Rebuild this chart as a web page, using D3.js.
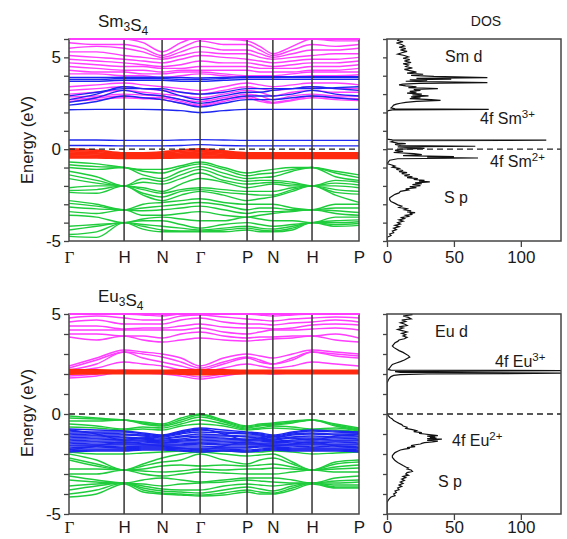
<!DOCTYPE html>
<html><head><meta charset="utf-8">
<script src="https://cdn.jsdelivr.net/npm/d3@7"></script>
<style>
body{margin:0;background:#fff}
text{font-family:"Liberation Sans",Arial,sans-serif;fill:#1a1a1a}
</style>
</head><body>
<svg id="c" width="567" height="539"></svg>
<script>
// ---------- k-path ----------
const kLabels = ["Γ","H","N","Γ","P","N","H","P"];
const kTicks  = [0,0.19,0.321,0.452,0.614,0.703,0.838,1];
const kPath   = [0,0.095,0.19,0.255,0.321,0.386,0.452,0.533,0.614,0.658,0.703,0.77,0.838,0.919,1];
const dosTicks = [0,50,100];

// ---------- Sm3S4 bands (eV at kPath) ----------
const smGreen = [
[-0.7,-0.8,-1.0,-1.1,-1.1,-0.9,-0.7,-1.0,-1.3,-1.2,-1.1,-1.0,-1.0,-1.2,-1.4],
[-0.85,-0.95,-1.0,-1.2,-1.3,-1.0,-0.8,-1.1,-1.45,-1.35,-1.3,-1.1,-1.0,-1.3,-1.55],
[-1.0,-1.1,-1.0,-1.4,-1.6,-1.2,-0.95,-1.3,-1.6,-1.55,-1.5,-1.2,-1.0,-1.5,-1.7],
[-1.2,-1.5,-2.0,-1.6,-1.75,-1.4,-1.1,-1.5,-1.75,-1.7,-1.7,-1.8,-2.0,-1.7,-1.8],
[-1.4,-1.7,-2.0,-1.8,-1.9,-1.6,-1.3,-1.7,-1.9,-1.85,-1.8,-1.9,-2.0,-1.85,-1.95],
[-1.6,-1.85,-2.0,-2.1,-2.3,-1.9,-1.6,-1.8,-2.1,-2.0,-1.9,-2.0,-2.0,-2.0,-2.1],
[-2.1,-2.0,-2.0,-2.2,-2.4,-2.2,-2.1,-2.2,-2.3,-2.3,-2.3,-2.1,-2.0,-2.2,-2.3],
[-2.25,-2.2,-2.0,-2.4,-2.6,-2.3,-2.2,-2.35,-2.45,-2.5,-2.5,-2.2,-2.0,-2.35,-2.45],
[-2.35,-2.4,-2.0,-2.5,-2.8,-2.5,-2.3,-2.5,-2.8,-2.7,-2.6,-2.3,-2.0,-2.5,-2.9],
[-2.8,-3.0,-3.3,-3.0,-2.9,-2.8,-2.7,-2.9,-3.0,-3.0,-3.0,-3.2,-3.3,-3.0,-3.0],
[-2.95,-3.1,-3.3,-3.2,-3.1,-3.0,-2.9,-3.05,-3.3,-3.2,-3.2,-3.3,-3.3,-3.2,-3.2],
[-3.15,-3.25,-3.3,-3.35,-3.3,-3.2,-3.1,-3.3,-3.5,-3.4,-3.4,-3.35,-3.3,-3.35,-3.45],
[-3.4,-3.5,-3.3,-3.6,-3.6,-3.5,-3.4,-3.6,-3.7,-3.6,-3.5,-3.4,-3.3,-3.5,-3.6],
[-3.6,-3.7,-4.0,-3.8,-3.7,-3.8,-3.9,-3.9,-3.7,-3.8,-3.9,-3.9,-4.0,-3.7,-3.7],
[-4.2,-4.1,-4.0,-3.9,-3.9,-4.1,-4.3,-4.1,-4.0,-4.1,-4.2,-4.1,-4.0,-3.9,-3.85],
[-4.4,-4.2,-4.0,-4.1,-4.2,-4.3,-4.4,-4.3,-4.2,-4.3,-4.35,-4.2,-4.0,-4.0,-3.95],
[-4.65,-4.5,-4.0,-4.2,-4.4,-4.45,-4.45,-4.4,-4.3,-4.4,-4.45,-4.3,-4.0,-4.1,-4.05],
[-4.75,-4.8,-4.0,-4.35,-4.5,-4.5,-4.5,-4.5,-4.4,-4.5,-4.5,-4.4,-4.0,-4.2,-4.15]
];
const smMagenta = [
[6.1,6.0,6.0,5.8,5.3,5.8,6.1,6.0,5.9,5.6,5.2,5.6,6.0,5.9,5.9],
[5.8,5.7,5.7,5.5,5.1,5.5,5.9,5.7,5.7,5.4,5.1,5.4,5.7,5.6,5.7],
[5.5,5.6,5.5,5.3,5.0,5.3,5.6,5.4,5.4,5.2,5.0,5.2,5.4,5.4,5.5],
[5.3,5.3,5.1,5.0,4.9,5.1,5.3,5.2,5.2,5.0,4.9,5.0,5.1,5.2,5.2],
[5.1,5.0,4.9,4.8,4.7,4.9,5.1,5.0,4.9,4.8,4.7,4.8,4.9,4.9,5.0],
[4.9,4.8,4.7,4.6,4.5,4.6,4.8,4.7,4.7,4.6,4.5,4.6,4.7,4.7,4.8],
[4.7,4.6,4.5,4.5,4.4,4.4,4.5,4.5,4.5,4.4,4.4,4.4,4.5,4.5,4.6],
[4.5,4.4,4.3,4.3,4.2,4.3,4.3,4.3,4.3,4.2,4.2,4.2,4.3,4.3,4.4],
[4.3,4.2,4.2,4.1,4.1,4.2,4.2,4.1,4.0,4.0,4.0,4.1,4.2,4.2,4.2],
[4.1,4.1,4.0,4.0,3.9,4.0,4.1,4.0,3.9,3.9,3.9,3.95,4.0,4.0,4.05],
[3.4,3.5,3.6,3.5,3.4,3.3,3.2,3.4,3.6,3.5,3.4,3.5,3.6,3.6,3.5],
[3.2,3.3,3.4,3.3,3.2,3.1,3.0,3.2,3.4,3.3,3.2,3.3,3.4,3.3,3.3],
[3.0,3.1,3.2,3.1,3.0,2.9,2.8,3.0,3.2,3.1,2.9,3.1,3.2,3.1,3.1],
[2.85,2.9,3.0,2.95,2.9,2.7,2.6,2.8,3.0,2.9,2.7,2.9,3.0,2.9,2.9],
[2.7,2.8,2.9,2.8,2.8,2.6,2.4,2.7,2.9,2.7,2.55,2.7,2.9,2.8,2.75],
[2.6,2.7,2.8,2.75,2.7,2.5,2.35,2.6,2.8,2.6,2.5,2.65,2.8,2.7,2.65]
];
const smBlue = [
[0.5,0.5,0.48,0.48,0.48,0.5,0.52,0.5,0.48,0.48,0.48,0.48,0.48,0.48,0.48],
[0.2,0.2,0.18,0.18,0.18,0.2,0.25,0.2,0.18,0.18,0.18,0.18,0.18,0.18,0.18],
[2.15,2.17,2.17,2.17,2.15,2.1,2.0,2.1,2.17,2.17,2.17,2.17,2.17,2.17,2.17],
[2.4,2.6,2.9,2.8,2.7,2.5,2.3,2.5,2.7,2.7,2.7,2.8,2.9,2.8,2.7],
[2.55,2.8,3.2,3.0,2.9,2.7,2.5,2.7,2.9,2.9,2.9,3.0,3.2,3.0,2.9],
[2.7,3.0,3.4,3.3,3.2,2.9,2.7,2.9,3.1,3.1,3.2,3.3,3.4,3.3,3.2],
[2.9,3.1,3.3,3.3,3.3,3.1,3.0,3.1,3.3,3.3,3.3,3.3,3.3,3.35,3.4],
[3.7,3.7,3.75,3.75,3.75,3.7,3.7,3.75,3.8,3.8,3.8,3.8,3.8,3.8,3.8],
[3.8,3.8,3.85,3.85,3.85,3.8,3.8,3.85,3.9,3.9,3.9,3.9,3.9,3.9,3.9],
[3.9,3.9,3.92,3.92,3.92,3.9,3.88,3.9,3.95,3.95,3.95,3.95,3.95,3.95,3.95]
];
const smRed = [
[0.02,-0.05,-0.2,-0.2,-0.15,-0.05,0.02,-0.1,-0.2,-0.2,-0.2,-0.2,-0.2,-0.2,-0.2],
[-0.08,-0.12,-0.25,-0.25,-0.22,-0.12,-0.06,-0.16,-0.25,-0.25,-0.25,-0.25,-0.25,-0.25,-0.25],
[-0.15,-0.2,-0.3,-0.3,-0.28,-0.2,-0.14,-0.22,-0.3,-0.3,-0.3,-0.3,-0.3,-0.3,-0.3],
[-0.22,-0.26,-0.33,-0.33,-0.32,-0.27,-0.22,-0.28,-0.34,-0.34,-0.34,-0.34,-0.34,-0.34,-0.34],
[-0.3,-0.32,-0.37,-0.37,-0.36,-0.33,-0.3,-0.33,-0.38,-0.38,-0.38,-0.38,-0.38,-0.38,-0.38],
[-0.36,-0.38,-0.41,-0.41,-0.4,-0.38,-0.36,-0.38,-0.42,-0.42,-0.42,-0.42,-0.42,-0.42,-0.42],
[-0.42,-0.43,-0.45,-0.45,-0.44,-0.43,-0.42,-0.43,-0.46,-0.46,-0.46,-0.46,-0.46,-0.46,-0.46],
[-0.47,-0.47,-0.5,-0.5,-0.49,-0.47,-0.47,-0.47,-0.5,-0.5,-0.5,-0.5,-0.5,-0.5,-0.5]
];

// ---------- Eu3S4 bands ----------
const euGreen = [
[-0.1,-0.2,-0.3,-0.4,-0.5,-0.2,0.0,-0.3,-0.6,-0.5,-0.45,-0.35,-0.3,-0.5,-0.7],
[-0.2,-0.25,-0.3,-0.45,-0.55,-0.3,-0.05,-0.35,-0.65,-0.55,-0.5,-0.4,-0.3,-0.55,-0.75],
[-0.35,-0.35,-0.3,-0.5,-0.6,-0.4,-0.15,-0.4,-0.7,-0.6,-0.55,-0.45,-0.3,-0.6,-0.8],
[-0.5,-0.6,-0.75,-0.65,-0.7,-0.5,-0.3,-0.5,-0.75,-0.7,-0.6,-0.65,-0.75,-0.7,-0.85],
[-0.65,-0.7,-0.8,-0.75,-0.8,-0.6,-0.5,-0.6,-0.8,-0.75,-0.7,-0.75,-0.8,-0.8,-0.9],
[-1.9,-2.0,-2.0,-1.95,-1.9,-1.85,-1.8,-1.85,-1.9,-1.9,-1.85,-1.9,-2.0,-1.95,-1.9],
[-2.0,-2.3,-2.8,-2.5,-2.2,-2.0,-1.9,-2.0,-2.1,-2.05,-2.0,-2.4,-2.8,-2.4,-2.3],
[-2.2,-2.5,-2.8,-2.6,-2.4,-2.3,-2.0,-2.3,-2.5,-2.3,-2.2,-2.5,-2.8,-2.5,-2.4],
[-2.3,-2.6,-2.8,-2.75,-2.6,-2.55,-2.6,-2.55,-2.6,-2.55,-2.5,-2.65,-2.8,-2.65,-2.55],
[-2.75,-2.75,-2.8,-2.85,-2.9,-2.85,-2.75,-2.8,-2.75,-2.75,-2.7,-2.75,-2.8,-2.75,-2.7],
[-3.0,-3.0,-2.8,-3.0,-3.1,-3.0,-2.9,-2.95,-3.0,-3.0,-3.0,-2.9,-2.8,-2.9,-2.9],
[-3.1,-3.3,-3.45,-3.3,-3.2,-3.3,-3.4,-3.3,-3.2,-3.2,-3.2,-3.3,-3.45,-3.2,-3.1],
[-3.3,-3.4,-3.45,-3.5,-3.6,-3.5,-3.45,-3.4,-3.3,-3.35,-3.4,-3.45,-3.45,-3.35,-3.3],
[-3.6,-3.5,-3.45,-3.6,-3.75,-3.8,-3.8,-3.6,-3.5,-3.55,-3.6,-3.5,-3.45,-3.45,-3.4],
[-3.8,-3.6,-3.45,-3.7,-3.85,-3.9,-3.95,-3.8,-3.65,-3.75,-3.85,-3.6,-3.45,-3.55,-3.55],
[-4.0,-3.8,-3.45,-3.8,-3.95,-4.0,-4.05,-3.95,-3.8,-3.9,-3.95,-3.7,-3.45,-3.65,-3.65],
[-4.15,-4.0,-3.5,-3.9,-4.0,-4.05,-4.1,-4.05,-3.9,-4.0,-4.0,-3.8,-3.5,-3.7,-3.7]
];
const euMagenta = [
[5.0,5.0,5.0,4.95,4.9,5.0,5.0,5.0,5.0,4.95,4.9,4.95,5.0,5.0,5.0],
[4.8,4.9,4.8,4.7,4.7,4.9,4.95,4.85,4.75,4.7,4.65,4.75,4.8,4.85,4.8],
[4.6,4.7,4.5,4.5,4.5,4.7,4.8,4.6,4.5,4.5,4.45,4.55,4.6,4.7,4.6],
[4.4,4.4,4.25,4.3,4.3,4.4,4.5,4.35,4.3,4.3,4.25,4.3,4.45,4.5,4.45],
[4.2,4.2,4.2,4.2,4.2,4.2,4.3,4.1,4.0,4.1,4.2,4.2,4.25,4.3,4.2],
[4.0,4.0,3.9,3.9,3.8,4.0,4.1,3.9,3.8,3.85,3.85,3.9,3.9,4.0,3.8],
[3.85,3.7,3.9,3.7,3.6,3.7,3.8,3.7,3.65,3.7,3.75,3.8,3.9,3.7,3.6],
[2.4,2.8,3.2,3.1,3.0,2.8,2.4,2.8,3.0,2.9,2.8,3.0,3.2,3.1,3.0],
[2.3,2.7,3.1,3.0,2.85,2.6,2.3,2.6,2.85,2.7,2.5,2.8,3.1,3.0,2.9],
[2.2,2.5,3.1,2.8,2.6,2.4,2.2,2.5,2.8,2.6,2.5,2.7,3.1,2.9,2.8],
[2.1,2.3,2.6,2.5,2.4,2.2,2.1,2.3,2.5,2.4,2.3,2.4,2.6,2.5,2.4],
[1.9,2.0,2.2,2.15,2.1,2.0,1.85,2.0,2.1,2.1,2.05,2.1,2.15,2.1,2.1],
[1.8,1.9,2.1,2.05,2.0,1.9,1.75,1.9,2.05,2.05,2.0,2.05,2.1,2.05,2.05]
];
const euBlue = [
[-0.75,-0.8,-0.85,-0.95,-1.05,-0.85,-0.7,-0.8,-0.9,-0.95,-1.05,-0.9,-0.8,-0.85,-0.9],
[-0.85,-0.9,-0.9,-1.0,-1.1,-0.95,-0.8,-0.9,-0.95,-1.0,-1.1,-0.95,-0.85,-0.9,-0.95],
[-0.95,-0.95,-1.0,-1.05,-1.15,-1.0,-0.9,-0.95,-1.0,-1.05,-1.15,-1.0,-0.95,-1.0,-1.0],
[-1.0,-1.05,-1.05,-1.1,-1.2,-1.1,-1.0,-1.05,-1.1,-1.1,-1.2,-1.05,-1.0,-1.05,-1.1],
[-1.1,-1.1,-1.15,-1.2,-1.25,-1.15,-1.1,-1.1,-1.15,-1.2,-1.25,-1.15,-1.1,-1.15,-1.15],
[-1.15,-1.2,-1.2,-1.25,-1.3,-1.25,-1.15,-1.2,-1.25,-1.25,-1.3,-1.2,-1.2,-1.2,-1.25],
[-1.25,-1.25,-1.3,-1.3,-1.35,-1.3,-1.25,-1.25,-1.3,-1.3,-1.35,-1.3,-1.25,-1.3,-1.3],
[-1.3,-1.35,-1.35,-1.35,-1.4,-1.35,-1.3,-1.35,-1.35,-1.35,-1.4,-1.35,-1.35,-1.35,-1.35],
[-1.4,-1.4,-1.45,-1.4,-1.45,-1.4,-1.4,-1.4,-1.45,-1.45,-1.45,-1.4,-1.45,-1.4,-1.45],
[-1.45,-1.5,-1.5,-1.5,-1.5,-1.5,-1.45,-1.5,-1.5,-1.5,-1.5,-1.5,-1.5,-1.5,-1.5],
[-1.55,-1.55,-1.55,-1.55,-1.55,-1.55,-1.5,-1.55,-1.55,-1.55,-1.55,-1.55,-1.55,-1.55,-1.55],
[-1.6,-1.6,-1.65,-1.6,-1.6,-1.6,-1.6,-1.65,-1.65,-1.6,-1.6,-1.6,-1.65,-1.6,-1.65],
[-1.7,-1.65,-1.7,-1.65,-1.65,-1.7,-1.7,-1.7,-1.7,-1.65,-1.65,-1.7,-1.7,-1.7,-1.7],
[-1.75,-1.75,-1.75,-1.7,-1.7,-1.75,-1.75,-1.75,-1.8,-1.75,-1.7,-1.75,-1.75,-1.75,-1.8],
[-1.85,-1.8,-1.8,-1.75,-1.75,-1.8,-1.85,-1.8,-1.85,-1.8,-1.75,-1.8,-1.8,-1.8,-1.85],
[-1.9,-1.85,-1.85,-1.8,-1.8,-1.85,-1.9,-1.85,-1.9,-1.85,-1.8,-1.85,-1.85,-1.85,-1.9],
[-0.8,-1.0,-1.3,-1.2,-1.1,-0.9,-0.75,-1.0,-1.3,-1.2,-1.1,-1.2,-1.3,-1.1,-1.0],
[-1.8,-1.6,-1.4,-1.5,-1.6,-1.7,-1.8,-1.6,-1.4,-1.5,-1.6,-1.5,-1.4,-1.6,-1.7]
];
const euRed = [
[2.22,2.2,2.18,2.18,2.18,2.2,2.22,2.2,2.18,2.18,2.18,2.18,2.18,2.18,2.18],
[2.17,2.16,2.15,2.15,2.15,2.16,2.17,2.16,2.15,2.15,2.15,2.15,2.15,2.15,2.15],
[2.12,2.12,2.11,2.11,2.11,2.12,2.12,2.12,2.11,2.11,2.11,2.11,2.11,2.11,2.11],
[2.08,2.08,2.07,2.07,2.07,2.08,2.05,2.08,2.07,2.07,2.07,2.07,2.07,2.07,2.07],
[2.04,2.04,2.04,2.04,2.04,2.03,2.0,2.03,2.04,2.04,2.04,2.04,2.04,2.04,2.04],
[2.0,2.01,2.02,2.02,2.02,2.0,1.97,2.0,2.02,2.02,2.02,2.02,2.02,2.02,2.02]
];

// ---------- DOS [energy, states] ----------
const dosSm = [
[6.0,9],[5.92,8],[5.85,12],[5.78,7],[5.7,11],[5.62,13],[5.55,9],[5.48,14],[5.4,10],[5.33,15],[5.25,11],[5.18,8],[5.1,13],[5.02,16],[4.95,12],[4.88,17],[4.8,13],[4.72,18],[4.65,12],[4.58,16],[4.5,14],[4.42,19],[4.35,13],[4.28,17],[4.2,22],[4.14,15],[4.08,27],[4.02,18],[3.96,35],[3.9,75],[3.86,22],[3.82,48],[3.78,17],[3.74,30],[3.7,14],[3.66,40],[3.62,75],[3.58,24],[3.54,12],[3.5,9],[3.45,14],[3.4,22],[3.35,16],[3.3,38],[3.25,20],[3.2,25],[3.15,17],[3.1,22],[3.05,15],[3.0,26],[2.95,19],[2.9,31],[2.85,18],[2.8,25],[2.75,17],[2.7,33],[2.66,40],[2.6,22],[2.55,14],[2.5,10],[2.45,7],[2.4,5],[2.32,4],[2.25,3],[2.2,6],[2.17,76],[2.14,4],[2.1,1],[2.05,0],
[0.55,0],[0.51,4],[0.49,119],[0.46,5],[0.4,3],[0.33,8],[0.3,14],[0.26,6],[0.2,10],[0.16,66],[0.13,8],[0.08,18],[0.04,28],[0.0,10],[-0.06,6],[-0.12,12],[-0.18,5],[-0.24,20],[-0.3,26],[-0.35,12],[-0.4,50],[-0.44,30],[-0.48,68],[-0.52,8],[-0.6,2],[-0.7,1],
[-0.78,0],[-0.85,3],[-0.92,6],[-0.98,4],[-1.05,9],[-1.1,7],[-1.16,12],[-1.22,9],[-1.28,15],[-1.33,11],[-1.38,17],[-1.44,13],[-1.5,19],[-1.55,15],[-1.6,23],[-1.65,20],[-1.7,28],[-1.74,24],[-1.78,32],[-1.83,21],[-1.88,26],[-1.93,19],[-1.98,25],[-2.04,17],[-2.1,22],[-2.16,14],[-2.22,16],[-2.3,10],[-2.38,9],[-2.46,6],[-2.55,4],[-2.65,2],[-2.75,2],[-2.85,3],[-2.95,6],[-3.03,8],[-3.1,11],[-3.17,9],[-3.24,15],[-3.3,13],[-3.36,18],[-3.42,15],[-3.46,21],[-3.5,17],[-3.55,19],[-3.6,14],[-3.66,16],[-3.72,11],[-3.78,13],[-3.85,9],[-3.92,12],[-4.0,8],[-4.08,10],[-4.15,6],[-4.22,9],[-4.3,5],[-4.38,7],[-4.46,4],[-4.55,5],[-4.62,2],[-4.7,3],[-4.8,0],[-5,0]
];
const dosEu = [
[5.1,17],[5.03,14],[4.97,19],[4.9,12],[4.83,16],[4.76,18],[4.7,11],[4.63,14],[4.56,10],[4.5,13],[4.43,15],[4.36,9],[4.3,12],[4.23,8],[4.16,12],[4.1,15],[4.03,11],[3.96,14],[3.9,12],[3.83,15],[3.76,13],[3.7,9],[3.63,8],[3.56,6],[3.48,5],[3.4,4],[3.33,5],[3.25,7],[3.17,9],[3.08,12],[3.0,14],[2.92,16],[2.85,17],[2.78,15],[2.7,13],[2.62,10],[2.55,7],[2.48,4],[2.4,3],[2.3,2],[2.22,1],[2.19,3],[2.17,140],[2.12,6],[2.08,10],[2.04,140],[2.0,30],[1.97,10],[1.93,5],[1.87,3],[1.8,2],[1.7,1],[1.55,0],
[0.02,0],[-0.08,1],[-0.17,2],[-0.25,4],[-0.33,5],[-0.4,7],[-0.47,9],[-0.53,11],[-0.6,12],[-0.66,15],[-0.72,14],[-0.78,19],[-0.83,22],[-0.88,20],[-0.93,26],[-0.97,24],[-1.0,28],[-1.04,33],[-1.08,38],[-1.11,30],[-1.14,36],[-1.17,32],[-1.2,37],[-1.23,30],[-1.26,41],[-1.29,33],[-1.32,30],[-1.36,38],[-1.4,34],[-1.43,28],[-1.47,26],[-1.5,25],[-1.55,20],[-1.58,18],[-1.63,21],[-1.68,15],[-1.72,17],[-1.76,13],[-1.8,10],[-1.86,8],[-1.93,6],[-2.0,5],[-2.08,4],[-2.17,4],[-2.25,5],[-2.33,6],[-2.42,8],[-2.5,10],[-2.58,12],[-2.65,14],[-2.7,16],[-2.75,15],[-2.8,18],[-2.87,19],[-2.93,15],[-3.0,14],[-3.06,16],[-3.12,12],[-3.18,14],[-3.25,11],[-3.32,13],[-3.4,10],[-3.47,12],[-3.55,9],[-3.62,11],[-3.7,8],[-3.78,9],[-3.85,6],[-3.93,7],[-4.0,5],[-4.08,6],[-4.15,3],[-4.22,2],[-4.3,1],[-4.42,0],[-5,0]
];

// ---------- drawing ----------
const COL = {green:"#1fcc3c", magenta:"#ff3cff", blue:"#1c26f0", red:"#ff2a10", frame:"#444"};
const svg = d3.select("#c");
const defs = svg.append("defs");
let clipN = 0;
function clip(x0,y0,w,h){
  const id = "cl"+(clipN++);
  defs.append("clipPath").attr("id",id).append("rect").attr("x",x0).attr("y",y0).attr("width",w).attr("height",h);
  return "url(#"+id+")";
}

function drawPanel(o){
  const x = d3.scaleLinear().domain([0,1]).range([69,359]);
  const y = d3.scaleLinear().domain(o.yDomain).range(o.yRange);
  const xd = d3.scaleLinear().domain([0,130]).range([387,561]);
  const [yb, yt] = o.yRange;

  // ----- band plot -----
  const g = svg.append("g");
  const plot = g.append("g").attr("clip-path", clip(69,yt,290,yb-yt));
  const line = d3.line().x((d,i)=>x(kPath[i])).y(d=>y(d)).curve(d3.curveMonotoneX);
  const groups = [[o.green,COL.green,1.4],[o.magenta,COL.magenta,1.4],[o.blue,COL.blue,1.4],[o.red,COL.red,1.8]];
  groups.forEach(([bands,c,w])=>{
    plot.append("g").selectAll("path").data(bands).join("path")
      .attr("d",line).attr("fill","none").attr("stroke",c).attr("stroke-width",w);
  });
  // high-symmetry verticals
  g.append("g").selectAll("line").data(kTicks.slice(1,-1)).join("line")
    .attr("x1",d=>x(d)).attr("x2",d=>x(d)).attr("y1",yt).attr("y2",yb)
    .attr("stroke","#333").attr("stroke-width",1.5);
  // Fermi level
  g.append("line").attr("x1",x(0)).attr("x2",x(1)).attr("y1",y(0)).attr("y2",y(0))
    .attr("stroke","#222").attr("stroke-width",1.3).attr("stroke-dasharray","6,4");
  // frame
  g.append("rect").attr("x",x(0)).attr("y",yt).attr("width",x(1)-x(0)).attr("height",yb-yt)
    .attr("fill","none").attr("stroke",COL.frame).attr("stroke-width",1.5);
  g.append("line").attr("x1",x(0)).attr("x2",x(1)).attr("y1",yt).attr("y2",yt)
    .attr("stroke",COL.magenta).attr("stroke-width",2);
  // y axis
  const ya = g.append("g").attr("transform",`translate(${x(0)},0)`)
    .call(d3.axisLeft(y).tickValues(d3.range(-5, o.yDomain[1]+1)).tickSize(5).tickPadding(3)
      .tickFormat(d=> (d%5===0)? String(d):""));
  ya.select(".domain").remove();
  ya.selectAll("line").attr("stroke",COL.frame).attr("stroke-width",1.3);
  ya.selectAll("text").attr("font-size",17).attr("fill","#1a1a1a");
  // x axis labels
  const xa = g.append("g").attr("transform",`translate(0,${yb})`)
    .call(d3.axisBottom(x).tickValues(kTicks).tickSize(0).tickFormat((d,i)=>kLabels[i]));
  xa.select(".domain").remove();
  xa.selectAll("text").attr("dy",null).attr("y",o.labOff).attr("font-size",17).attr("fill","#1a1a1a")
    .style("font-family",(d,i)=> kLabels[i]==="Γ" ? '"Liberation Serif","Times New Roman",serif' : null);
  // y label
  g.append("text").attr("transform",`translate(33,${o.yLabelY}) rotate(-90)`)
    .attr("text-anchor","middle").attr("font-size",16.5).text("Energy (eV)");
  // title
  const t = g.append("text").attr("x",98).attr("y",o.titleY).attr("font-size",17);
  o.title.forEach(([s,sub])=>{
    t.append("tspan").text(s);
    t.append("tspan").attr("font-size",12).attr("dy",4).text(sub);
    t.append("tspan").attr("dy",-4).text("");
  });

  // ----- DOS plot -----
  const gd = svg.append("g");
  const dplot = gd.append("g").attr("clip-path", clip(387,yt,174,yb-yt));
  dplot.append("path").datum(o.dos)
    .attr("d", d3.line().x(d=>xd(d[1])).y(d=>y(d[0])))
    .attr("fill","none").attr("stroke","#111").attr("stroke-width",1.2);
  gd.append("line").attr("x1",xd(0)).attr("x2",xd(130)).attr("y1",y(0)).attr("y2",y(0))
    .attr("stroke","#222").attr("stroke-width",1.3).attr("stroke-dasharray","6,4");
  gd.append("rect").attr("x",xd(0)).attr("y",yt).attr("width",xd(130)-xd(0)).attr("height",yb-yt)
    .attr("fill","none").attr("stroke",COL.frame).attr("stroke-width",1.5);
  const dya = gd.append("g").attr("transform",`translate(${xd(0)},0)`)
    .call(d3.axisLeft(y).tickValues(d3.range(-5, Math.floor(o.yDomain[1])+1)).tickSize(4).tickFormat(""));
  dya.select(".domain").remove();
  dya.selectAll("line").attr("stroke",COL.frame).attr("stroke-width",1.3);
  const dxa = gd.append("g").attr("transform",`translate(0,${yb})`)
    .call(d3.axisBottom(xd).tickValues(dosTicks).tickSize(6).tickFormat(d=>String(d)));
  dxa.select(".domain").remove();
  dxa.selectAll("line").attr("stroke",COL.frame).attr("stroke-width",1.3);
  dxa.selectAll("text").attr("dy",null).attr("y",o.labOff).attr("font-size",17).attr("fill","#1a1a1a");

  // DOS annotations
  o.notes.forEach(n=>{
    const tx = gd.append("text").attr("x",n.x).attr("y",n.y).attr("font-size",16);
    tx.append("tspan").text(n.t);
    if(n.sup){ tx.append("tspan").attr("font-size",11.5).attr("dy",-6).text(n.sup); }
  });
  if(o.dosTitle){
    gd.append("text").attr("x",486).attr("y",26).attr("text-anchor","middle").attr("font-size",14).text(o.dosTitle);
  }
}

drawPanel({
  yDomain:[-5,6], yRange:[241,39], yLabelY:140, titleY:27, labOff:22,
  title:[["Sm","3"],["S","4"]],
  green:smGreen, magenta:smMagenta, blue:smBlue, red:smRed, dos:dosSm, dosTitle:"DOS",
  notes:[{t:"Sm d",x:445,y:62},{t:"4f Sm",sup:"3+",x:480,y:124},{t:"4f Sm",sup:"2+",x:490,y:167},{t:"S p",x:444,y:203}]
});
drawPanel({
  yDomain:[-5,5], yRange:[514,314], yLabelY:413, titleY:302, labOff:19,
  title:[["Eu","3"],["S","4"]],
  green:euGreen, magenta:euMagenta, blue:euBlue, red:euRed, dos:dosEu, dosTitle:null,
  notes:[{t:"Eu d",x:435,y:337},{t:"4f Eu",sup:"3+",x:495,y:367},{t:"4f Eu",sup:"2+",x:452,y:446},{t:"S p",x:438,y:487}]
});
</script>
</body></html>
